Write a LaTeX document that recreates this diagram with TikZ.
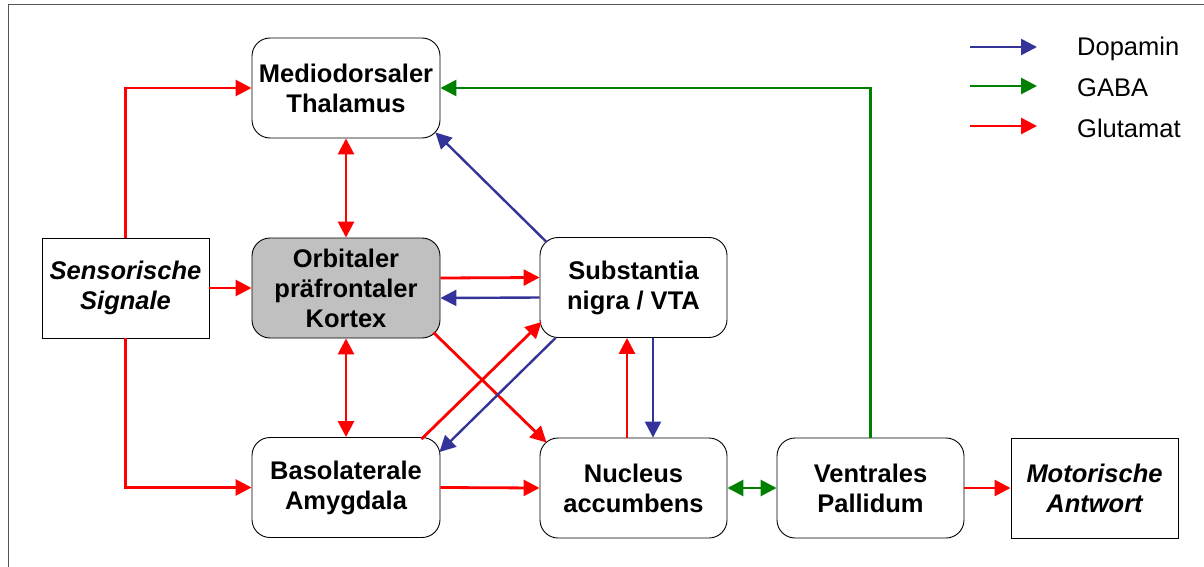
\documentclass[tikz,border=0pt]{standalone}
\usepackage{fontspec}
\setmainfont{Liberation Sans}
\usetikzlibrary{arrows.meta}
\definecolor{dopa}{HTML}{333399}
\definecolor{gaba}{HTML}{008000}
\definecolor{glut}{HTML}{FF0000}
\definecolor{cortex}{HTML}{C0C0C0}
\definecolor{frame}{HTML}{555555}
\tikzset{
  region/.style={draw=black, line width=0.9pt, rounded corners=18pt, fill=white,
    minimum width=188pt, minimum height=100pt, align=center,
    font=\fontsize{25.5}{30}\selectfont\bfseries},
  signal/.style={draw=black, line width=0.9pt, fill=white,
    minimum width=167pt, minimum height=100pt, align=center,
    font=\fontsize{25.5}{30}\selectfont\bfseries\itshape},
  tip/.style={-{Triangle[length=16pt,width=16pt]}},
  dtip/.style={{Triangle[length=16pt,width=16pt]}-{Triangle[length=16pt,width=16pt]}},
  glu/.style={glut, line width=2.8pt},
  dop/.style={dopa, line width=2.4pt},
  gab/.style={gaba, line width=2.8pt},
  legtext/.style={anchor=west, inner sep=0pt, font=\fontsize{25.5}{30}\selectfont}
}
\begin{document}
\begin{tikzpicture}[x=1pt,y=-1pt]
  \useasboundingbox (0,0) rectangle (1204,567);
  % outer frame, running past the right and lower edges
  \draw[frame, line width=1.2pt] (8.5,600) -- (8.5,4.5) -- (1230,4.5);

  % regions
  \node[region] (thal) at (346,88)    {Mediodorsaler\\Thalamus};
  \node[region, fill=cortex] (orb) at (346,288) {Orbitaler\\präfrontaler\\Kortex};
  \node[region] (baso) at (346,487.5) {Basolaterale\\Amygdala};
  \node[region, minimum width=187pt] (sn)  at (633.5,287.5) {Substantia\\nigra / VTA};
  \node[region, minimum width=187pt] (nac) at (633.5,488)   {Nucleus\\accumbens};
  \node[region, minimum width=187pt] (vp)  at (870.5,488)   {Ventrales\\Pallidum};
  \node[signal] (sens) at (125.5,288) {Sensorische\\Signale};
  \node[signal] (mot)  at (1094.5,488) {Motorische\\Antwort};

  % glutamate
  \draw[glu, tip] (sens.north) |- (thal.west);
  \draw[glu, tip] (sens.south) |- (baso.west);
  \draw[glu, tip] (sens.east) -- (orb.west);
  \draw[glu, dtip] (thal.south) -- (orb.north);
  \draw[glu, dtip] (orb.south) -- (baso.north);
  \draw[glu, tip] ([yshift=10pt]orb.east) -- ([yshift=10pt]sn.west);
  \draw[glu, tip] ([shift={(-7,-6)}]orb.south east) -- ([shift={(7,5)}]nac.north west);
  \draw[glu, tip] ([shift={(-19,2)}]baso.north east) -- ([shift={(2,-16)}]sn.south west);
  \draw[glu, tip] (baso.east) -- (nac.west);
  \draw[glu, tip] ([xshift=-6.5pt]nac.north) -- ([xshift=-6.5pt]sn.south);
  \draw[glu, tip] (vp.east) -- (mot.west);

  % dopamine
  \draw[dop, tip] ([yshift=-10pt]sn.west) -- ([yshift=-10pt]orb.east);
  \draw[dop, tip] ([shift={(7,5)}]sn.north west) -- ([shift={(-5,-6)}]thal.south east);
  \draw[dop, tip] ([shift={(16,0)}]sn.south west) -- ([shift={(-1,15)}]baso.north east);
  \draw[dop, tip] ([xshift=19.5pt]sn.south) -- ([xshift=19.5pt]nac.north);

  % GABA
  \draw[gab, tip] (vp.north) |- (thal.east);
  \draw[gab, dtip] (nac.east) -- (vp.west);

  % legend
  \coordinate (l1a) at (970,47);  \coordinate (l1b) at (1037,47);
  \coordinate (l2a) at (970,86);  \coordinate (l2b) at (1037,86);
  \coordinate (l3a) at (970,126); \coordinate (l3b) at (1037,126);
  \draw[dop, tip] (l1a) -- (l1b);
  \draw[gab, tip] (l2a) -- (l2b);
  \draw[glu, tip] (l3a) -- (l3b);
  \node[legtext] (t1) at (1077,49)  {Dopamin};
  \node[legtext] (t2) at (1077,88)  {GABA};
  \node[legtext] (t3) at (1077,128) {Glutamat};
\end{tikzpicture}
\end{document}
